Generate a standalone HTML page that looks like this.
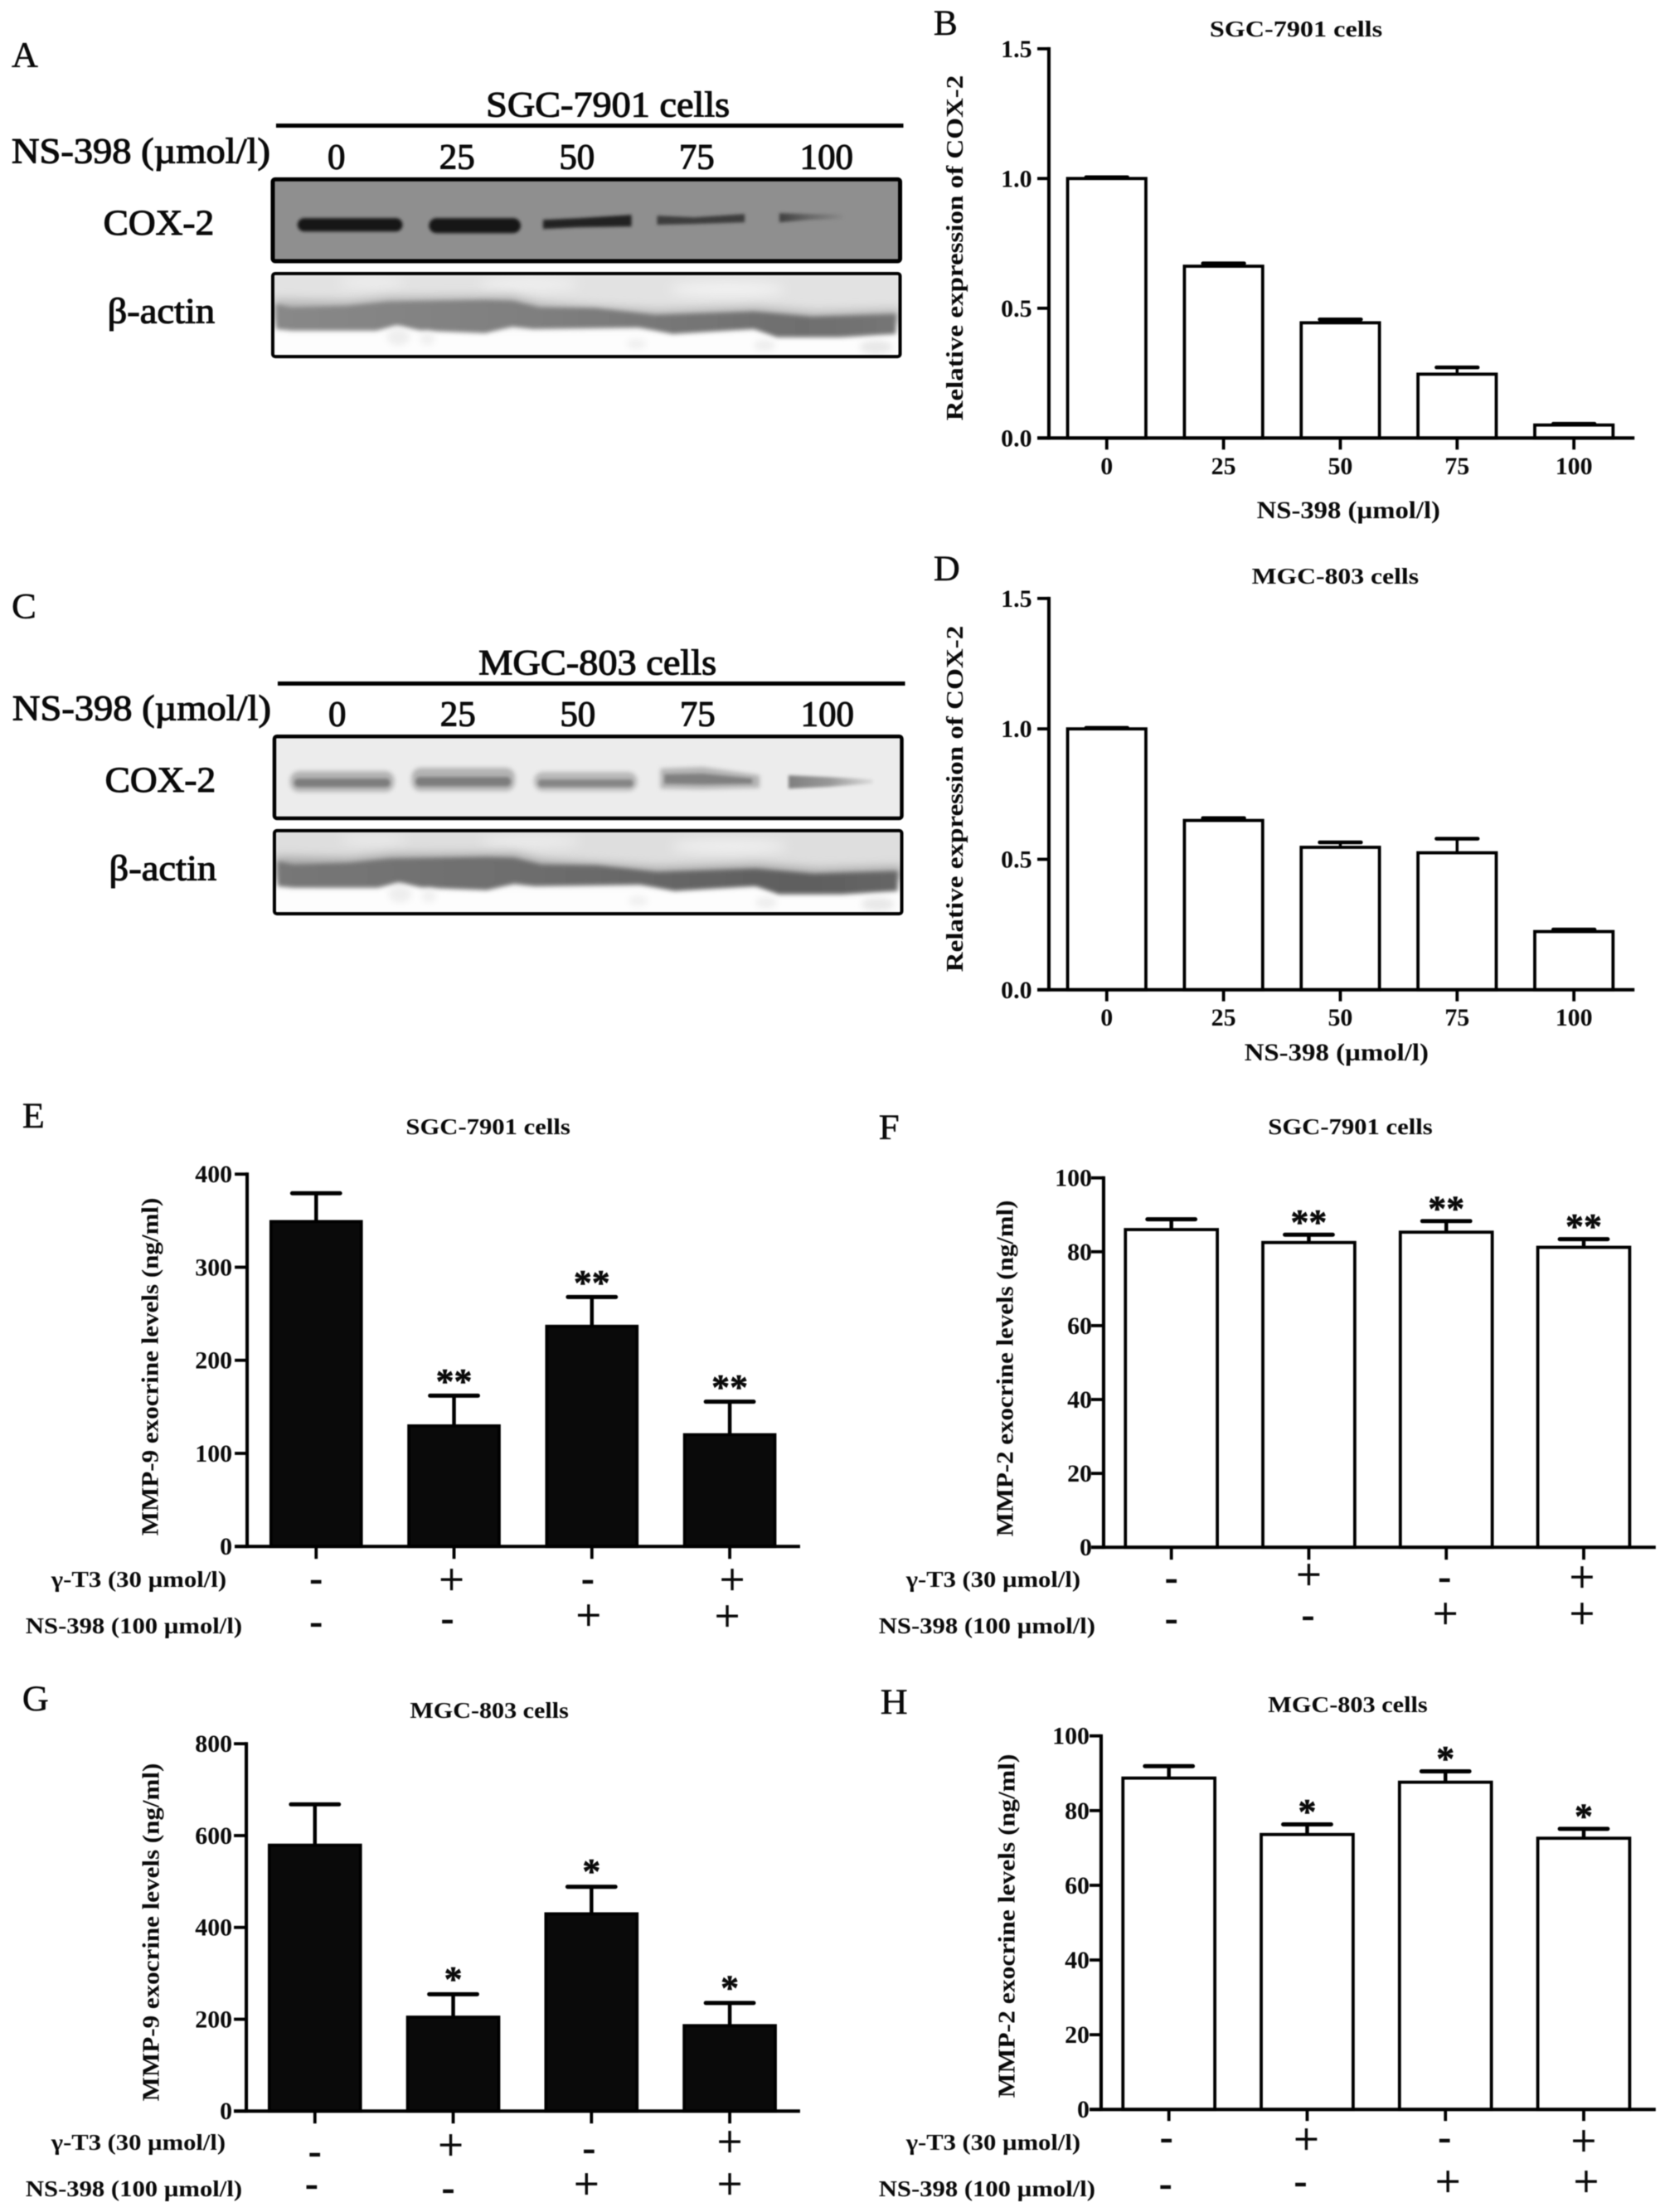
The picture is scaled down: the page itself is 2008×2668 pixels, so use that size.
<!DOCTYPE html>
<html lang="en">
<head>
<meta charset="utf-8">
<title>COX-2 and MMP expression figure</title>
<style>
  html, body { margin: 0; padding: 0; background: #fff; }
  #figure { display: block; filter: blur(0.6px); }
  text { font-family: "Liberation Serif", "DejaVu Serif", serif; fill: #0a0a0a; }
  .letter { font-size: 44px; stroke: #0a0a0a; stroke-width: 0.5px; }
  .blot-big { font-size: 43px; stroke: #0a0a0a; stroke-width: 1.1px; }
  .title { font-size: 28px; font-weight: bold; }
  .ytitle { font-size: 29px; font-weight: bold; }
  .xtitle { font-size: 30px; font-weight: bold; }
  .rowlabel { font-size: 28px; font-weight: bold; }
</style>
</head>
<body>
<svg id="figure" xmlns="http://www.w3.org/2000/svg" width="2008" height="2668" viewBox="0 0 2008 2668">
  <defs>
    <filter id="soft1" x="-10%" y="-80%" width="120%" height="260%"><feGaussianBlur stdDeviation="2"/></filter>
    <filter id="soft2" x="-10%" y="-80%" width="120%" height="260%"><feGaussianBlur stdDeviation="2.8"/></filter>
    <filter id="soft3" x="-10%" y="-80%" width="120%" height="260%"><feGaussianBlur stdDeviation="6"/></filter>
    <filter id="soft4" x="-30%" y="-80%" width="160%" height="260%"><feGaussianBlur stdDeviation="7"/></filter>
    <filter id="soft5" x="-60%" y="-80%" width="220%" height="260%"><feGaussianBlur stdDeviation="4"/></filter>
    <clipPath id="clipActinA"><rect x="330" y="331" width="759" height="100.5"/></clipPath>
    <clipPath id="clipActinC"><rect x="332" y="1003" width="759" height="100.5"/></clipPath>
    <linearGradient id="fadeBand" x1="0" x2="1" y1="0" y2="0">
      <stop offset="0" stop-color="#3f3f3f"/><stop offset="0.45" stop-color="#666"/><stop offset="1" stop-color="#8c8c8c"/>
    </linearGradient>
    <linearGradient id="fadeBandC" x1="0" x2="1" y1="0" y2="0">
      <stop offset="0" stop-color="#7f7f7f"/><stop offset="0.5" stop-color="#989898"/><stop offset="1" stop-color="#dcdcdc"/>
    </linearGradient>
    <linearGradient id="actinShadeA" x1="0" x2="1" y1="0" y2="0">
      <stop offset="0" stop-color="#888"/><stop offset="0.45" stop-color="#7e7e7e"/><stop offset="0.85" stop-color="#6e6e6e"/><stop offset="1" stop-color="#757575"/>
    </linearGradient>
    <linearGradient id="actinShadeC" x1="0" x2="1" y1="0" y2="0">
      <stop offset="0" stop-color="#777"/><stop offset="0.45" stop-color="#6c6c6c"/><stop offset="0.85" stop-color="#5e5e5e"/><stop offset="1" stop-color="#666"/>
    </linearGradient>
  </defs>
  <rect width="2008" height="2668" fill="#fff"/>

  <!-- Panel A -->
  <g transform="scale(0.9968)">
    <text class="letter" x="14" y="81" textLength="32" lengthAdjust="spacingAndGlyphs">A</text>
    <text class="blot-big" x="588" y="141" textLength="295" lengthAdjust="spacingAndGlyphs">SGC-7901 cells</text>
    <rect x="334" y="149.5" width="759" height="5" fill="#000"/>
    <text class="blot-big" x="14" y="197" textLength="313" lengthAdjust="spacingAndGlyphs">NS-398 (µmol/l)</text>
    <text class="blot-big" x="407" y="204" text-anchor="middle">0</text>
    <text class="blot-big" x="553" y="204" text-anchor="middle">25</text>
    <text class="blot-big" x="698" y="204" text-anchor="middle">50</text>
    <text class="blot-big" x="843" y="204" text-anchor="middle">75</text>
    <text class="blot-big" x="1000" y="204" text-anchor="middle">100</text>
    <text class="blot-big" x="125" y="284" textLength="134" lengthAdjust="spacingAndGlyphs">COX-2</text>
    <text class="blot-big" x="130" y="391" textLength="130" lengthAdjust="spacingAndGlyphs">β-actin</text>

    <g>
      <rect x="330" y="217" width="759" height="99" rx="3" fill="#8f8f8f"/>
      <rect x="360" y="264" width="127" height="16" rx="8" fill="#141414" filter="url(#soft1)"/>
      <rect x="519" y="264" width="111" height="18" rx="9" fill="#121212" filter="url(#soft1)"/>
      <path d="M657,266 L700,264 L764,260 L764,274 L700,275 L657,277 Z" fill="#222" filter="url(#soft1)"/>
      <path d="M795,261 L840,263 L901,259 L901,269 L840,271 L795,272 Z" fill="#3c3c3c" filter="url(#soft1)"/>
      <path d="M943,258 L980,259 L1021,259 L1021,265 L980,266 L943,269 Z" fill="url(#fadeBand)" filter="url(#soft1)"/>
      <rect x="330" y="217" width="759" height="99" rx="3" fill="none" stroke="#000" stroke-width="5"/>
    </g>

    <g>
      <rect x="330" y="331" width="759" height="100.5" fill="#fdfdfd"/>
      <g clip-path="url(#clipActinA)">
        <path d="M325,325 L1095,325 L1095,385 L325,378 Z" fill="#e2e2e2" filter="url(#soft3)"/>
        <ellipse cx="450" cy="342" rx="40" ry="7" fill="#eeeeee" filter="url(#soft4)"/>
        <ellipse cx="640" cy="344" rx="60" ry="8" fill="#f0f0f0" filter="url(#soft4)"/>
        <ellipse cx="880" cy="350" rx="70" ry="9" fill="#f2f2f2" filter="url(#soft4)"/>
        <path d="M330,362 L420,364 L470,359 L620,358 L653,366 L795,375 L915,371 L986,377 L1089,374 L1089,392 L330,392 Z" fill="#b4b4b4" filter="url(#soft3)"/>
        <path d="M334,368 L353,372 L420,370 L470,365 L587,363 L620,364 L653,372 L720,373 L793,381 L912,377 L982,383 L1084,380 L1084,404 L1017,408 L940,408 L912,398 L814,404 L772,396 L645,398 L620,395 L587,403 L510,400 L480,393 L455,400 L353,400 L334,398 Z" fill="url(#actinShadeA)" filter="url(#soft2)"/>
        <ellipse cx="482" cy="408" rx="14" ry="10" fill="#eeeeee" filter="url(#soft5)"/>
        <ellipse cx="517" cy="410" rx="9" ry="8" fill="#f0f0f0" filter="url(#soft5)"/>
        <ellipse cx="770" cy="416" rx="12" ry="6" fill="#f0f0f0" filter="url(#soft5)"/>
        <ellipse cx="925" cy="418" rx="13" ry="7" fill="#eeeeee" filter="url(#soft5)"/>
        <ellipse cx="1060" cy="420" rx="20" ry="8" fill="#e8e8e8" filter="url(#soft5)"/>
      </g>
      <rect x="330" y="331" width="759" height="100.5" rx="3" fill="none" stroke="#000" stroke-width="4"/>
    </g>
  </g>

  <!-- Panel C -->
  <g transform="translate(0,660) scale(0.9968) translate(0,-660)">
    <text class="letter" x="14" y="746" textLength="30" lengthAdjust="spacingAndGlyphs">C</text>
    <text class="blot-big" x="579" y="814" textLength="288" lengthAdjust="spacingAndGlyphs">MGC-803 cells</text>
    <rect x="336" y="822.5" width="759" height="5" fill="#000"/>
    <text class="blot-big" x="15" y="869" textLength="313" lengthAdjust="spacingAndGlyphs">NS-398 (µmol/l)</text>
    <text class="blot-big" x="408" y="876" text-anchor="middle">0</text>
    <text class="blot-big" x="554" y="876" text-anchor="middle">25</text>
    <text class="blot-big" x="699" y="876" text-anchor="middle">50</text>
    <text class="blot-big" x="844" y="876" text-anchor="middle">75</text>
    <text class="blot-big" x="1001" y="876" text-anchor="middle">100</text>
    <text class="blot-big" x="127" y="956" textLength="134" lengthAdjust="spacingAndGlyphs">COX-2</text>
    <text class="blot-big" x="132" y="1063" textLength="130" lengthAdjust="spacingAndGlyphs">β-actin</text>

    <g>
      <rect x="332" y="889" width="759" height="99" rx="3" fill="#ececec"/>
      <rect x="351" y="931" width="126" height="25" rx="11" fill="#b2b2b2" filter="url(#soft2)"/>
      <rect x="498" y="927" width="125" height="28" rx="11" fill="#b2b2b2" filter="url(#soft2)"/>
      <rect x="646" y="932" width="125" height="23" rx="11" fill="#b8b8b8" filter="url(#soft2)"/>
      <path d="M799,928 L850,926 L919,936 L919,951 L850,953 L799,952 Z" fill="#b2b2b2" filter="url(#soft2)"/>
      <rect x="356" y="940" width="116" height="10" rx="5" fill="#7d7d7d" filter="url(#soft1)"/>
      <rect x="503" y="938" width="115" height="11" rx="5" fill="#7d7d7d" filter="url(#soft1)"/>
      <rect x="651" y="941" width="115" height="9" rx="4" fill="#858585" filter="url(#soft1)"/>
      <path d="M804,935 L850,934 L910,940 L910,946 L850,947 L804,946 Z" fill="#808080" filter="url(#soft1)"/>
      <path d="M954,936 L1000,938 L1056,941 L1056,946 L1000,950 L954,952 Z" fill="url(#fadeBandC)" filter="url(#soft1)"/>
      <rect x="332" y="889" width="759" height="99" rx="3" fill="none" stroke="#000" stroke-width="4.5"/>
    </g>

    <g>
      <rect x="332" y="1003" width="759" height="100.5" fill="#fdfdfd"/>
      <g clip-path="url(#clipActinC)">
        <g transform="translate(2,672)">
          <path d="M325,325 L1095,325 L1095,385 L325,378 Z" fill="#dedede" filter="url(#soft3)"/>
          <ellipse cx="450" cy="342" rx="40" ry="7" fill="#eaeaea" filter="url(#soft4)"/>
          <ellipse cx="640" cy="344" rx="60" ry="8" fill="#ececec" filter="url(#soft4)"/>
          <ellipse cx="880" cy="350" rx="70" ry="9" fill="#efefef" filter="url(#soft4)"/>
          <path d="M330,362 L420,364 L470,359 L620,358 L653,366 L795,375 L915,371 L986,377 L1089,374 L1089,392 L330,392 Z" fill="#a8a8a8" filter="url(#soft3)"/>
          <path d="M334,368 L353,372 L420,370 L470,365 L587,363 L620,364 L653,372 L720,373 L793,381 L912,377 L982,383 L1084,380 L1084,404 L1017,408 L940,408 L912,398 L814,404 L772,396 L645,398 L620,395 L587,403 L510,400 L480,393 L455,400 L353,400 L334,398 Z" fill="url(#actinShadeC)" filter="url(#soft2)"/>
          <ellipse cx="482" cy="408" rx="14" ry="10" fill="#eeeeee" filter="url(#soft5)"/>
          <ellipse cx="517" cy="410" rx="9" ry="8" fill="#f0f0f0" filter="url(#soft5)"/>
          <ellipse cx="770" cy="416" rx="12" ry="6" fill="#f0f0f0" filter="url(#soft5)"/>
          <ellipse cx="925" cy="418" rx="13" ry="7" fill="#eeeeee" filter="url(#soft5)"/>
          <ellipse cx="1060" cy="420" rx="20" ry="8" fill="#e8e8e8" filter="url(#soft5)"/>
        </g>
      </g>
      <rect x="332" y="1003" width="759" height="100.5" rx="3" fill="none" stroke="#000" stroke-width="4"/>
    </g>
  </g>

  <!-- Panel B -->
  <g id="panel-b" transform="translate(1100,0) scale(0.9968) translate(-1100,0)">
    <text class="letter" x="1126" y="42" textLength="29" lengthAdjust="spacingAndGlyphs">B</text>
    <text class="title" x="1460" y="44" textLength="209" lengthAdjust="spacingAndGlyphs">SGC-7901 cells</text>
    <text class="ytitle" transform="translate(1161,509) rotate(-90)" textLength="418" lengthAdjust="spacingAndGlyphs">Relative expression of COX-2</text>
    <text class="xtitle" x="1517" y="627" textLength="222" lengthAdjust="spacingAndGlyphs">NS-398 (µmol/l)</text>
  </g>

  <!-- Panel D -->
  <g id="panel-d" transform="translate(1100,660) scale(0.9968) translate(-1100,-660)">
    <text class="letter" x="1126" y="700" textLength="32" lengthAdjust="spacingAndGlyphs">D</text>
    <text class="title" x="1511" y="704" textLength="202" lengthAdjust="spacingAndGlyphs">MGC-803 cells</text>
    <text class="ytitle" transform="translate(1161,1174) rotate(-90)" textLength="419" lengthAdjust="spacingAndGlyphs">Relative expression of COX-2</text>
    <text class="xtitle" x="1502" y="1281" textLength="223" lengthAdjust="spacingAndGlyphs">NS-398 (µmol/l)</text>
  </g>

  <!-- Panel E -->
  <g id="panel-e" transform="translate(0,1320) scale(0.9968) translate(0,-1320)">
    <text class="letter" x="27" y="1360" textLength="27" lengthAdjust="spacingAndGlyphs">E</text>
    <text class="title" x="491" y="1368" textLength="199" lengthAdjust="spacingAndGlyphs">SGC-7901 cells</text>
    <text class="ytitle" transform="translate(191,1854) rotate(-90)" textLength="409" lengthAdjust="spacingAndGlyphs">MMP-9 exocrine levels (ng/ml)</text>
    <text class="rowlabel" x="62" y="1916" textLength="212" lengthAdjust="spacingAndGlyphs">γ-T3 (30 µmol/l)</text>
    <text class="rowlabel" x="31" y="1972" textLength="262" lengthAdjust="spacingAndGlyphs">NS-398 (100 µmol/l)</text>
  </g>

  <!-- Panel F -->
  <g id="panel-f" transform="translate(1000,1320) scale(0.9968) translate(-1000,-1320)">
    <text class="letter" x="1060" y="1374" textLength="25" lengthAdjust="spacingAndGlyphs">F</text>
    <text class="title" x="1531" y="1368" textLength="199" lengthAdjust="spacingAndGlyphs">SGC-7901 cells</text>
    <text class="ytitle" transform="translate(1222,1855) rotate(-90)" textLength="407" lengthAdjust="spacingAndGlyphs">MMP-2 exocrine levels (ng/ml)</text>
    <text class="rowlabel" x="1093" y="1916" textLength="211" lengthAdjust="spacingAndGlyphs">γ-T3 (30 µmol/l)</text>
    <text class="rowlabel" x="1060" y="1972" textLength="262" lengthAdjust="spacingAndGlyphs">NS-398 (100 µmol/l)</text>
  </g>

  <!-- Panel G -->
  <g id="panel-g" transform="translate(0,2010) scale(0.9968) translate(0,-2010)">
    <text class="letter" x="27" y="2063" textLength="32" lengthAdjust="spacingAndGlyphs">G</text>
    <text class="title" x="496" y="2072" textLength="192" lengthAdjust="spacingAndGlyphs">MGC-803 cells</text>
    <text class="ytitle" transform="translate(192,2536) rotate(-90)" textLength="409" lengthAdjust="spacingAndGlyphs">MMP-9 exocrine levels (ng/ml)</text>
    <text class="rowlabel" x="62" y="2595" textLength="211" lengthAdjust="spacingAndGlyphs">γ-T3 (30 µmol/l)</text>
    <text class="rowlabel" x="31" y="2651" textLength="262" lengthAdjust="spacingAndGlyphs">NS-398 (100 µmol/l)</text>
  </g>

  <!-- Panel H -->
  <g id="panel-h" transform="translate(1000,2010) scale(0.9968) translate(-1000,-2010)">
    <text class="letter" x="1062" y="2067" textLength="33" lengthAdjust="spacingAndGlyphs">H</text>
    <text class="title" x="1531" y="2065" textLength="193" lengthAdjust="spacingAndGlyphs">MGC-803 cells</text>
    <text class="ytitle" transform="translate(1224,2532) rotate(-90)" textLength="416" lengthAdjust="spacingAndGlyphs">MMP-2 exocrine levels (ng/ml)</text>
    <text class="rowlabel" x="1093" y="2595" textLength="211" lengthAdjust="spacingAndGlyphs">γ-T3 (30 µmol/l)</text>
    <text class="rowlabel" x="1060" y="2651" textLength="262" lengthAdjust="spacingAndGlyphs">NS-398 (100 µmol/l)</text>
  </g>
</svg>

<script>
// ---- chart data ----
const doseCategories = ['0', '25', '50', '75', '100'];
const relativeTicks = [0, 0.5, 1, 1.5];
const relativeTickLabels = ['0.0', '0.5', '1.0', '1.5'];

const panelBValues = [1.0, 0.662, 0.444, 0.246, 0.05];
const panelBErrors = [0.005, 0.011, 0.013, 0.026, 0.005];
const panelDValues = [1.0, 0.649, 0.546, 0.525, 0.223];
const panelDErrors = [0.004, 0.009, 0.019, 0.054, 0.008];

const treatmentCategories = ['control', 'gamma-t3', 'ns-398', 'combination'];
const gammaT3Signs = ['-', '+', '-', '+'];
const ns398Signs = ['-', '-', '+', '+'];

const panelETicks = [0, 100, 200, 300, 400];
const panelEValues = [349, 129.5, 236.5, 120];
const panelEErrors = [30.5, 32.5, 31.5, 35.5];
const panelESignificance = ['', '**', '**', '**'];

const percentTicks = [0, 20, 40, 60, 80, 100];
const panelFValues = [86, 82.5, 85.3, 81.2];
const panelFErrors = [2.8, 2.1, 3, 2.2];
const panelFSignificance = ['', '**', '**', '**'];

const panelGTicks = [0, 200, 400, 600, 800];
const panelGValues = [579, 204.5, 429.5, 186];
const panelGErrors = [89, 50, 59, 49.5];
const panelGSignificance = ['', '*', '*', '*'];

const panelHValues = [88.7, 73.6, 87.6, 72.6];
const panelHErrors = [3.2, 2.7, 2.9, 2.5];
const panelHSignificance = ['', '*', '*', '*'];

// ---- drawing ----
const SVG_NS = 'http://www.w3.org/2000/svg';

function make(parent, tag, attrs, label, content) {
  const el = document.createElementNS(SVG_NS, tag);
  for (const k in attrs) el.setAttribute(k, attrs[k]);
  
  
  if (content !== undefined) el.textContent = content;
  parent.appendChild(el);
  return el;
}

function drawBarChart(c) {
  const root = document.getElementById(c.id);
  const yScale = v => c.yZero - (v / c.yMax) * (c.yZero - c.yTop);
  const xScale = i => c.firstX + i * c.stepX;
  const sw = c.strokeWidth;

  // bars
  c.values.forEach((v, i) => {
    const key = c.categories[i];
    const capY = yScale(v + c.errors[i]);
    const topY = yScale(v);
    const x = xScale(i);
    make(root, 'line', { x1: x, x2: x, y1: capY, y2: topY, stroke: '#000', 'stroke-width': c.stemWidth }, 'error-stem-' + key);
    make(root, 'line', { x1: x - c.capWidth / 2, x2: x + c.capWidth / 2, y1: capY, y2: capY, stroke: '#000', 'stroke-width': c.capThickness, 'stroke-linecap': 'round' }, 'error-cap-' + key);
    make(root, 'rect', {
      x: x - c.barWidth / 2 + sw / 2,
      y: topY,
      width: c.barWidth - sw,
      height: Math.max(0, c.yZero - topY),
      fill: c.barFill,
      stroke: '#000',
      'stroke-width': sw
    }, 'bar-' + key);
    if (c.significance && c.significance[i]) {
      make(root, 'text', {
        x: x, y: capY - c.starLift + 20, 'text-anchor': 'middle',
        'font-size': 44, 'font-weight': 'bold', stroke: '#0a0a0a', 'stroke-width': 0.6
      }, 'significance-' + key, c.significance[i]);
    }
  });

  // axes
  make(root, 'line', { x1: c.axisX, x2: c.axisX, y1: c.yTop - sw / 2, y2: c.yZero + sw / 2, stroke: '#000', 'stroke-width': sw + 0.3 }, 'y-axis-line');
  make(root, 'line', { x1: c.axisX - c.tickLen, x2: c.xEnd, y1: c.yZero, y2: c.yZero, stroke: '#000', 'stroke-width': sw + 0.3 }, 'x-axis-line');

  // y ticks
  c.ticks.forEach((t, i) => {
    const y = yScale(t);
    make(root, 'line', { x1: c.axisX - c.tickLen, x2: c.axisX, y1: y, y2: y, stroke: '#000', 'stroke-width': sw }, 'y-tick');
    make(root, 'text', {
      x: c.labelRight, y: y + 10, 'text-anchor': 'end',
      'font-size': 30, 'font-weight': 'bold'
    }, 'y-tick-label', c.tickLabels ? c.tickLabels[i] : String(t));
  });

  // x ticks
  c.categories.forEach((cat, i) => {
    const x = xScale(i);
    make(root, 'line', { x1: x, x2: x, y1: c.yZero, y2: c.yZero + c.tickLen, stroke: '#000', 'stroke-width': sw }, 'x-tick-' + cat);
    if (c.xLabelY) {
      make(root, 'text', {
        x: x, y: c.xLabelY, 'text-anchor': 'middle',
        'font-size': 30, 'font-weight': 'bold'
      }, 'x-tick-label-' + cat, cat);
    }
  });

  // treatment sign rows
  if (c.rows) {
    c.rows.forEach(row => {
      row.signs.forEach((s, i) => {
        const isPlus = s === '+';
        make(root, 'text', {
          x: xScale(i) + row.nudgeX[i],
          y: row.y + row.nudgeY[i] + (isPlus ? 14 : 11),
          'text-anchor': 'middle',
          'font-size': isPlus ? 54 : 48,
          'font-weight': isPlus ? 'normal' : 'bold',
          stroke: '#0a0a0a',
          'stroke-width': isPlus ? 0.7 : 0.3
        }, row.name + '-sign-' + c.categories[i], s);
      });
    });
  }
}

drawBarChart({
  id: 'panel-b', categories: doseCategories, values: panelBValues, errors: panelBErrors,
  ticks: relativeTicks, tickLabels: relativeTickLabels, yMax: 1.5,
  axisX: 1265.5, yTop: 59, yZero: 530, xEnd: 1974, tickLen: 14, labelRight: 1245,
  firstX: 1335.5, stepX: 141.3, barWidth: 98.5, barFill: '#fff', strokeWidth: 3.8,
  stemWidth: 3.5, capWidth: 50, capThickness: 4.5, xLabelY: 574
});

drawBarChart({
  id: 'panel-d', categories: doseCategories, values: panelDValues, errors: panelDErrors,
  ticks: relativeTicks, tickLabels: relativeTickLabels, yMax: 1.5,
  axisX: 1265.5, yTop: 722, yZero: 1195.5, xEnd: 1974, tickLen: 14, labelRight: 1245,
  firstX: 1335.5, stepX: 141.3, barWidth: 98.5, barFill: '#fff', strokeWidth: 3.8,
  stemWidth: 3.5, capWidth: 50, capThickness: 4.5, xLabelY: 1239
});

drawBarChart({
  id: 'panel-e', categories: treatmentCategories, values: panelEValues, errors: panelEErrors,
  ticks: panelETicks, yMax: 400, significance: panelESignificance, starLift: 23,
  axisX: 299, yTop: 1416.5, yZero: 1867, xEnd: 968, tickLen: 15, labelRight: 281,
  firstX: 382.5, stepX: 166.8, barWidth: 113, barFill: '#0a0a0a', strokeWidth: 3.8,
  stemWidth: 4.5, capWidth: 58, capThickness: 5,
  rows: [
    { name: 'gamma-t3', signs: gammaT3Signs, y: 1910, nudgeX: [0, -3, -5, 3], nudgeY: [0, 1, 0, 1] },
    { name: 'ns-398', signs: ns398Signs, y: 1957, nudgeX: [0, -8, -4, -3], nudgeY: [5, 1, -3, -2] }
  ]
});

drawBarChart({
  id: 'panel-f', categories: treatmentCategories, values: panelFValues, errors: panelFErrors,
  ticks: percentTicks, yMax: 100, significance: panelFSignificance, starLift: 21,
  axisX: 1332, yTop: 1421, yZero: 1868, xEnd: 2000, tickLen: 15, labelRight: 1318,
  firstX: 1414, stepX: 166.3, barWidth: 115, barFill: '#fff', strokeWidth: 3.8,
  stemWidth: 4.5, capWidth: 58, capThickness: 5,
  rows: [
    { name: 'gamma-t3', signs: gammaT3Signs, y: 1907, nudgeX: [0, 0, -2, -2], nudgeY: [2, -2, 1, 1] },
    { name: 'ns-398', signs: ns398Signs, y: 1954, nudgeX: [0, -1, -1, -2], nudgeY: [4, 0, -2, -2] }
  ]
});

drawBarChart({
  id: 'panel-g', categories: treatmentCategories, values: panelGValues, errors: panelGErrors,
  ticks: panelGTicks, yMax: 800, significance: panelGSignificance, starLift: 24,
  axisX: 298, yTop: 2103.5, yZero: 2548, xEnd: 968, tickLen: 15, labelRight: 281,
  firstX: 381, stepX: 167.3, barWidth: 114, barFill: '#0a0a0a', strokeWidth: 3.8,
  stemWidth: 4.5, capWidth: 58, capThickness: 5,
  rows: [
    { name: 'gamma-t3', signs: gammaT3Signs, y: 2595, nudgeX: [0, -3, -3, 0], nudgeY: [6, -2, 2, -6] },
    { name: 'ns-398', signs: ns398Signs, y: 2641, nudgeX: [-4, -6, -6, 0], nudgeY: [-1, 4, -1, -1] }
  ]
});

drawBarChart({
  id: 'panel-h', categories: treatmentCategories, values: panelHValues, errors: panelHErrors,
  ticks: percentTicks, yMax: 100, significance: panelHSignificance, starLift: 21,
  axisX: 1329, yTop: 2094, yZero: 2546, xEnd: 2000, tickLen: 14, labelRight: 1315,
  firstX: 1411, stepX: 167.3, barWidth: 115, barFill: '#fff', strokeWidth: 3.8,
  stemWidth: 4.5, capWidth: 58, capThickness: 5,
  rows: [
    { name: 'gamma-t3', signs: gammaT3Signs, y: 2586, nudgeX: [-3, -1, -1, 0], nudgeY: [-2, 0, -2, 2] },
    { name: 'ns-398', signs: ns398Signs, y: 2638, nudgeX: [-4, -8, 3, 3], nudgeY: [2, -1, -1, -1] }
  ]
});
</script>
</body>
</html>
